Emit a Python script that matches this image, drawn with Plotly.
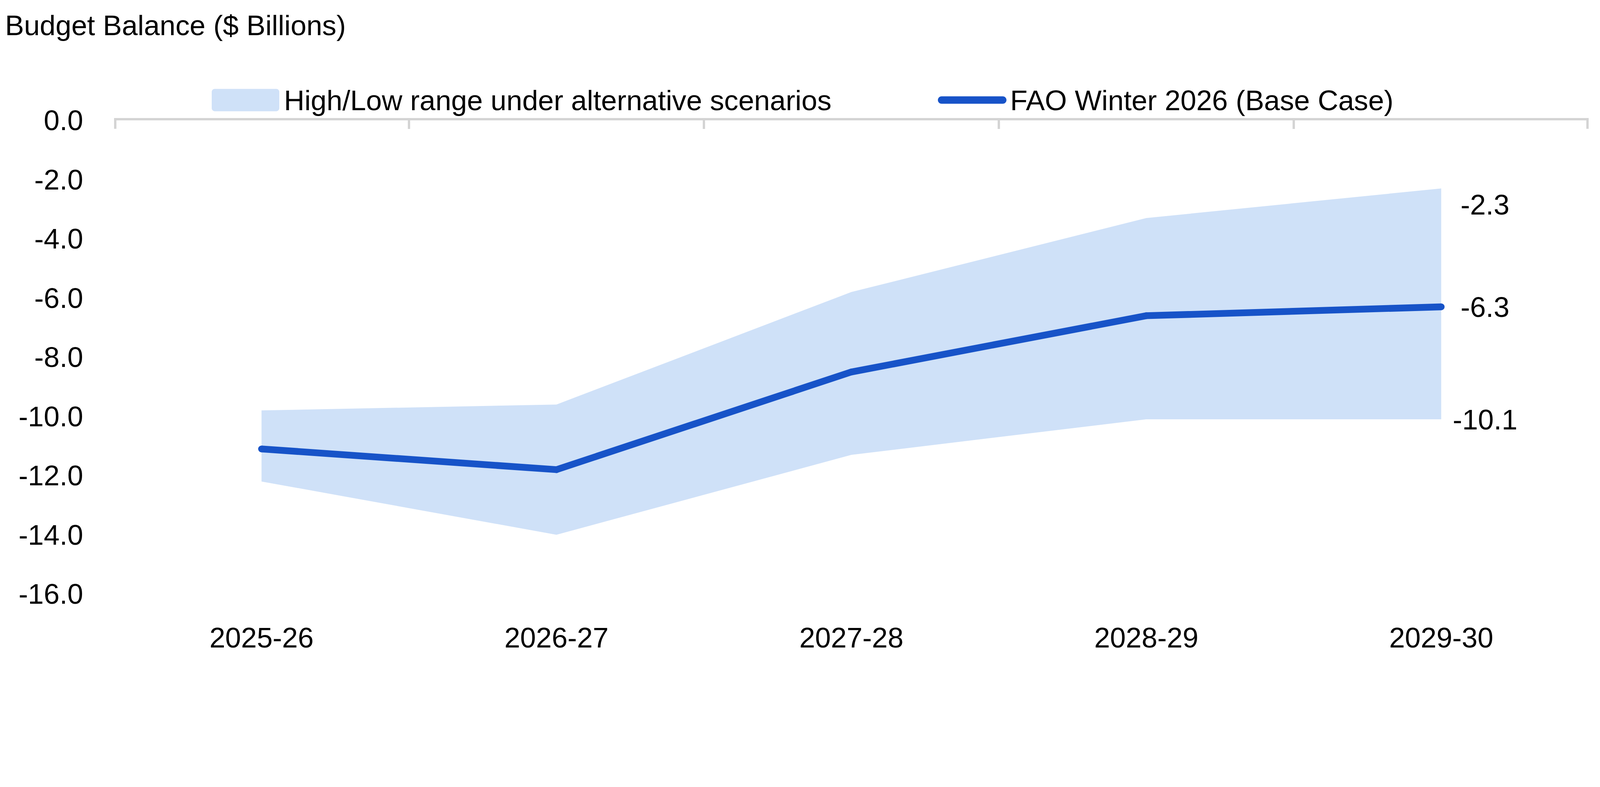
import plotly.graph_objects as go

# ---- data ----
categories = ["2025-26", "2026-27", "2027-28", "2028-29", "2029-30"]
base_case = [-11.1, -11.8, -8.5, -6.6, -6.3]
high_case = [-9.8, -9.6, -5.8, -3.3, -2.3]
low_case = [-12.2, -14.0, -11.3, -10.1, -10.1]
y_ticks = [0, -2, -4, -6, -8, -10, -12, -14, -16]
y_tick_labels = [f"{v:.1f}" for v in y_ticks]
range_name = "High/Low range under alternative scenarios"
base_name = "FAO Winter 2026 (Base Case)"
axis_title = "Budget Balance ($ Billions)"

# ---- style / geometry (target screenshot pixels -> css pixels) ----
TW, TH = 4732, 2014          # target picture size
S = 1.156                    # screenshot px per css px
OFF = 8                      # body margin in css px
W = int(round(TW / S)) - 2 * OFF
H = int(round(TH / S)) - 2 * OFF

def d(p):        # size in target px -> css px
    return p / S

def c(p):        # position in target px -> figure css px
    return p / S - OFF

FONT = "Liberation Sans, Arial, sans-serif"
FS = d(84)
LINE_COLOR = "#1753C8"
FILL_COLOR = "#CFE1F8"
AXIS_COLOR = "#D4D4D4"

# plot area in target px
PL, PR, PT, PB = 338, 4702, 356, 1757
ML = c(PL)
MR = W - c(PR)
MT = c(PT)
MB = H - c(PB)

fig = go.Figure()

fig.add_trace(go.Scatter(
    x=categories, y=low_case, mode="lines", line=dict(width=0, color=FILL_COLOR),
    showlegend=False, hoverinfo="skip", name="Low"))
fig.add_trace(go.Scatter(
    x=categories, y=high_case, mode="lines", line=dict(width=0, color=FILL_COLOR),
    fill="tonexty", fillcolor=FILL_COLOR, showlegend=False, name=range_name))
fig.add_trace(go.Scatter(
    x=categories, y=base_case, mode="lines+markers",
    line=dict(width=d(20), color=LINE_COLOR),
    marker=dict(size=d(20), color=LINE_COLOR, line=dict(width=0)),
    showlegend=False, name=base_name))
# carrier trace for the bottom label axis
fig.add_trace(go.Scatter(
    x=categories, y=base_case, mode="lines", line=dict(width=0), opacity=0,
    showlegend=False, hoverinfo="skip", xaxis="x2"))

# end labels
last = categories[-1]
for v, ys in [(high_case[-1], -48), (base_case[-1], 0), (low_case[-1], 0)]:
    fig.add_annotation(x=last, y=v, xref="x", yref="y", text=f"{v:.1f}",
                       showarrow=False, xanchor="center", yanchor="middle",
                       xshift=d(130), yshift=d(ys),
                       font=dict(size=FS, color="black", family=FONT))

# custom legend (positions in target px, converted to paper fractions)
def px_x(p):
    return (p - PL) / (PR - PL)

def px_y(p):
    return (PB - p) / (PB - PT)

def rounded_rect(x0, x1, y0, y1, r):
    """x/y in target px (y0 top, y1 bottom); returns paper-coord SVG path."""
    k = 0.5523 * r
    pts = [
        f"M{px_x(x0 + r)},{px_y(y0)}",
        f"L{px_x(x1 - r)},{px_y(y0)}",
        f"C{px_x(x1 - r + k)},{px_y(y0)} {px_x(x1)},{px_y(y0 + r - k)} {px_x(x1)},{px_y(y0 + r)}",
        f"L{px_x(x1)},{px_y(y1 - r)}",
        f"C{px_x(x1)},{px_y(y1 - r + k)} {px_x(x1 - r + k)},{px_y(y1)} {px_x(x1 - r)},{px_y(y1)}",
        f"L{px_x(x0 + r)},{px_y(y1)}",
        f"C{px_x(x0 + r - k)},{px_y(y1)} {px_x(x0)},{px_y(y1 - r + k)} {px_x(x0)},{px_y(y1 - r)}",
        f"L{px_x(x0)},{px_y(y0 + r)}",
        f"C{px_x(x0)},{px_y(y0 + r - k)} {px_x(x0 + r - k)},{px_y(y0)} {px_x(x0 + r)},{px_y(y0)}",
        "Z",
    ]
    return " ".join(pts)

leg_y = 296
fig.add_shape(type="path", xref="paper", yref="paper",
              path=rounded_rect(627, 827, 263, 329, 9),
              fillcolor=FILL_COLOR, line=dict(width=0))
fig.add_annotation(xref="paper", yref="paper", x=px_x(839), y=px_y(leg_y),
                   text=range_name, showarrow=False, xanchor="left", yanchor="middle",
                   font=dict(size=FS, color="black", family=FONT))
fig.add_shape(type="path", xref="paper", yref="paper",
              path=rounded_rect(2776, 2979, 285, 307, 11),
              fillcolor=LINE_COLOR, line=dict(width=0))
fig.add_annotation(xref="paper", yref="paper", x=px_x(2988), y=px_y(leg_y),
                   text=base_name, showarrow=False, xanchor="left", yanchor="middle",
                   font=dict(size=FS, color="black", family=FONT))

# end ticks of the category axis (axis decoration at the domain edges)
half = 3.5 / (PR - PL)
tick_len = 25 / (PB - PT)
for xd in (half, 1 - half):
    fig.add_shape(type="line", xref="x domain", yref="y domain",
                  x0=xd, x1=xd, y0=1, y1=1 - tick_len,
                  line=dict(width=d(7), color=AXIS_COLOR))

fig.update_layout(
    width=W, height=H,
    margin=dict(l=ML, r=MR, t=MT, b=MB, pad=0),
    paper_bgcolor="white", plot_bgcolor="white",
    font=dict(family=FONT, size=FS, color="black"),
    showlegend=False,
    title=dict(text=axis_title, x=c(15) / W, xanchor="left", y=1 - c(75) / H, yanchor="middle",
               xref="container", yref="container",
               font=dict(size=FS, color="black", family=FONT)),
    xaxis=dict(type="category", categoryorder="array", categoryarray=categories,
               range=[-0.5, len(categories) - 0.5], side="top",
               showline=True, linecolor=AXIS_COLOR, linewidth=d(7),
               ticks="inside", tickson="boundaries", ticklen=d(25), tickwidth=d(7),
               tickcolor=AXIS_COLOR,
               showticklabels=False, showgrid=False, zeroline=False),
    xaxis2=dict(type="category", categoryorder="array", categoryarray=categories,
                range=[-0.5, len(categories) - 0.5], overlaying="x", side="bottom", anchor="y",
                showline=False, ticks="", showticklabels=True, showgrid=False, zeroline=False,
                tickfont=dict(size=FS, color="black", family=FONT), ticklabelstandoff=63),
    yaxis=dict(range=[y_ticks[-1], y_ticks[0]], tickvals=y_ticks, ticktext=y_tick_labels,
               showgrid=False, zeroline=False, showline=False, ticks="",
               tickfont=dict(size=FS, color="black", family=FONT), ticklabelstandoff=78),
)

fig.write_html("out.html")
